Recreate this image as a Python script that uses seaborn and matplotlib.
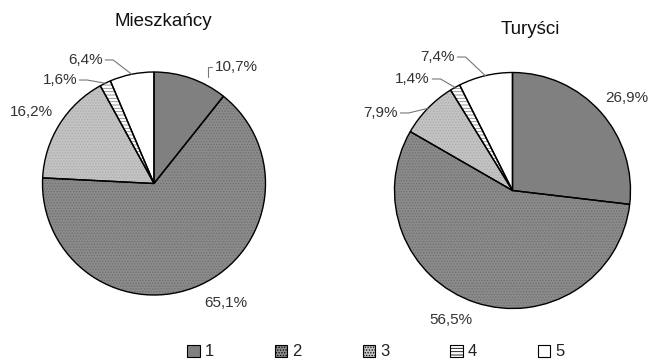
import numpy as np
import matplotlib
matplotlib.use("Agg")
import matplotlib.pyplot as plt
from matplotlib.patches import Patch
import seaborn as sns

# Category codes and their shares (%) for both groups
categories = ["1", "2", "3", "4", "5"]
mieszkancy = [10.7, 65.1, 16.2, 1.6, 6.4]
turysci = [26.9, 56.5, 7.9, 1.4, 7.4]
titles = ["Mieszkańcy", "Turyści"]

sns.set_theme(style="white")
plt.rcParams["font.family"] = ["Liberation Sans", "DejaVu Sans"]
plt.rcParams["hatch.linewidth"] = 0.6

face_colors = ["#808080", "#8b8b8b", "#c3c3c3", "#ffffff", "#ffffff"]
hatches = [None, "......", "......", "-----", None]
hatch_colors = [None, "#6f6f6f", "#acacac", "#8a8a8a", None]

W, H = 651, 362
fig = plt.figure(figsize=(W / 100, H / 100), dpi=100)


def pie_axes(cx, cy, r):
    return fig.add_axes([(cx - r) / W, (H - cy - r) / H, 2 * r / W, 2 * r / H])


def fmt(v):
    return f"{v:.1f}".replace(".", ",") + "%"


# label placement per pie: (x, y) in pie-radius units, leader kind
label_layout = [
    [((0.55, 1.045), "corner"), ((0.64, -1.07), None), ((-1.10, 0.64), None),
     ((-0.69, 0.928), "elbow"), ((-0.457, 1.108), "elbow")],
    [((0.97, 0.78), None), ((-0.52, -1.10), None), ((-0.97, 0.657), "elbow"),
     ((-0.70, 0.945), "elbow"), ((-0.487, 1.131), "elbow")],
]

# pie centre (px), radius (px), title centre (px)
pies = [(154, 183.5, 111.5), (512.5, 190.5, 118)]
title_pos = [(163, 22), (530, 29)]
LABEL_FS = 11

for values, title, (cx, cy, r), (tx0, ty0), layout in zip(
        [mieszkancy, turysci], titles, pies, title_pos, label_layout):
    ax = pie_axes(cx, cy, r)
    wedges, _ = ax.pie(values, startangle=90, counterclock=False, colors=face_colors,
                       wedgeprops=dict(edgecolor="none", linewidth=0))
    # fine texture overlay
    tex, _ = ax.pie(values, startangle=90, counterclock=False,
                    wedgeprops=dict(fill=False, linewidth=0))
    for w, h, hc in zip(tex, hatches, hatch_colors):
        if h:
            w.set_edgecolor(hc)
            w.set_hatch(h)
            w.set_linewidth(0)
        else:
            w.set_visible(False)
    # outlines on top
    ax.pie(values, startangle=90, counterclock=False,
           wedgeprops=dict(edgecolor="black", linewidth=1.0, fill=False))
    ax.set_xlim(-1, 1)
    ax.set_ylim(-1, 1)
    ax.set_aspect("auto")
    ax.axis("off")

    fig.text(tx0 / W, 1 - ty0 / H, title, ha="center", va="center", fontsize=13.5,
             color="#111111")

    for w, v, ((tx, ty), kind) in zip(wedges, values, layout):
        mid = np.deg2rad((w.theta1 + w.theta2) / 2)
        ex, ey = np.cos(mid), np.sin(mid)
        txt = fmt(v)
        if kind == "corner":
            ax.text(tx, ty, txt, ha="left", va="center", fontsize=LABEL_FS, color="#333333",
                    clip_on=False)
            x0 = tx - 0.03
            ax.plot([x0, x0 - 0.04, x0 - 0.04], [ty, ty, ey + 0.01], color="#777777", lw=0.8,
                    clip_on=False, solid_joinstyle="miter")
        elif kind == "elbow":
            ax.text(tx, ty, txt, ha="right", va="center", fontsize=LABEL_FS, color="#333333",
                    clip_on=False)
            x0 = tx + 0.02
            ax.plot([x0, x0 + 0.07, ex], [ty, ty, ey], color="#777777", lw=0.8, clip_on=False)
        else:
            ax.text(tx, ty, txt, ha="center", va="center", fontsize=LABEL_FS, color="#333333",
                    clip_on=False)

handles = [Patch(facecolor=fc, edgecolor="black", hatch=h, linewidth=0.8)
           for fc, h in zip(face_colors, hatches)]
fig.legend(handles, categories, loc="center", bbox_to_anchor=(376 / W, 1 - 352 / H), ncol=5,
           frameon=False, fontsize=12, handlelength=0.75, handleheight=0.75,
           handletextpad=0.3, columnspacing=3.65, labelcolor="#222222")

fig.savefig("out.png", dpi=100)
